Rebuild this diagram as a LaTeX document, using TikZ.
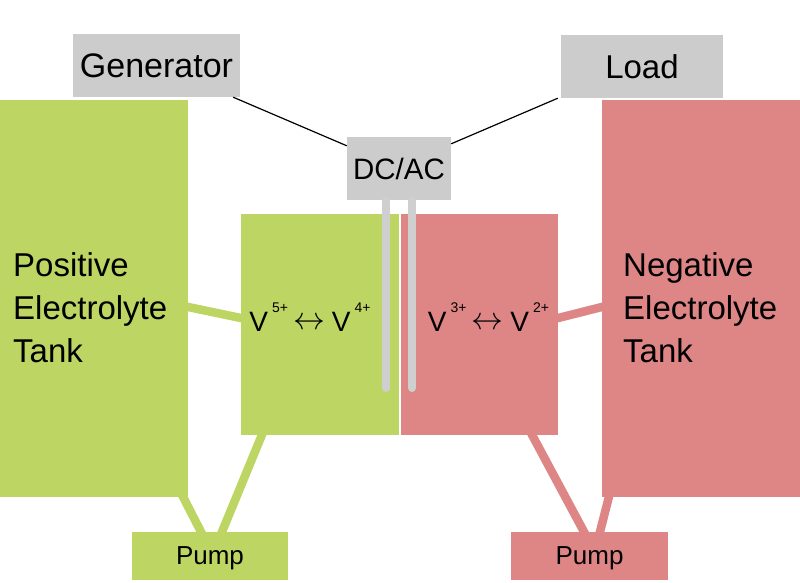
\documentclass[tikz,border=0pt]{standalone}
\usepackage{graphicx}
\usepackage{fontspec}
\setmainfont{Liberation Sans}
\usetikzlibrary{positioning}

\definecolor{posgreen}{HTML}{BDD562}
\definecolor{negred}{HTML}{DE8585}
\definecolor{boxgray}{HTML}{CCCCCC}

\newcommand\vion[1]{V\kern4pt\raisebox{19pt}{\fontsize{14}{14}\selectfont#1}}
\newcommand\redox[2]{\vion{#1}\hspace{5pt}\raisebox{2pt}{\scalebox{1.28}{$\leftrightarrow$}}\hspace{7pt}\vion{#2}}

\tikzset{
  blk/.style={inner sep=0pt,text depth=0pt},
  pipe/.style={line width=8.5pt,line cap=rect},
  electrode/.style={draw=boxgray!95,line width=8pt,line cap=round},
  wire/.style={line width=1.2pt}
}

\begin{document}
\begin{tikzpicture}[x=1pt,y=-1pt]
\fill[white] (0,0) rectangle (800,582);
\useasboundingbox (0,0) rectangle (800,582);
% converter and outside world
\node[blk,fill=boxgray,minimum width=167,minimum height=63,font=\fontsize{34}{40}\selectfont] (gen) at (156.5,65.5) {Generator};
\node[blk,fill=boxgray,minimum width=162,minimum height=63,font=\fontsize{33}{40}\selectfont] (load) at (642,66.5) {Load};
\node[blk,fill=boxgray,minimum width=104,minimum height=63,font=\fontsize{29.5}{34}\selectfont] (dcac) at (399,168.5) {DC/AC};
% tanks, cell halves, pumps
\node[blk,fill=posgreen,minimum width=188,minimum height=397] (tankP) at (94,298.5) {};
\node[blk,fill=negred,minimum width=198,minimum height=397] (tankN) at (701,298.5) {};
\node[blk,fill=posgreen,minimum width=157.5,minimum height=221] (cellP) at (319.75,324.5) {};
\node[blk,fill=negred,minimum width=157.5,minimum height=221] (cellN) at (479.25,324.5) {};
\node[blk,fill=posgreen,minimum width=156,minimum height=48,font=\fontsize{26}{30}\selectfont] (pumpP) at (210,556) {Pump};
\node[blk,fill=negred,minimum width=157,minimum height=48,font=\fontsize{26}{30}\selectfont] (pumpN) at (589.5,556) {Pump};
% pipes
\draw[pipe,posgreen] ([yshift=-8.5pt]tankP.east) -- ([yshift=6.5pt]cellP.west);
\draw[pipe,posgreen] ([xshift=-5pt]tankP.south east) -- ([xshift=-9pt]pumpP.north);
\draw[pipe,posgreen] ([xshift=21pt]cellP.south west) -- ([xshift=12pt]pumpP.north);
\draw[pipe,negred] ([yshift=6.5pt]cellN.east) -- ([yshift=-8.5pt]tankN.west);
\draw[pipe,negred] ([xshift=-26pt]cellN.south east) -- ([xshift=-5.5pt]pumpN.north);
\draw[pipe,negred] ([xshift=7pt]tankN.south west) -- ([xshift=10.5pt]pumpN.north);
% electrodes
\coordinate (eP) at (386,388);
\coordinate (eN) at (412,388);
\foreach \s/\e in {-13/eP,13/eN}{\draw[electrode] ([xshift=\s pt]dcac.south) -- (\e);}
% wires
\draw[wire] ([xshift=-7pt]gen.south east) -- ([yshift=-9pt]dcac.north west);
\draw[wire] ([xshift=-3pt]load.south west) -- ([yshift=-7pt]dcac.north east);
% labels
\node[inner sep=0pt,anchor=west,align=left,font=\fontsize{33}{43}\selectfont] (tankPtxt) at (13,307.5) {Positive\\Electrolyte\\Tank};
\node[inner sep=0pt,anchor=west,align=left,font=\fontsize{33}{43}\selectfont] (tankNtxt) at (623,307.5) {Negative\\Electrolyte\\Tank};
\node[blk,font=\fontsize{28}{34}\selectfont] (redoxP) at (310,317.5) {\redox{5+}{4+}};
\node[blk,font=\fontsize{28}{34}\selectfont] (redoxN) at (488.5,317.5) {\redox{3+}{2+}};
\end{tikzpicture}
\end{document}
